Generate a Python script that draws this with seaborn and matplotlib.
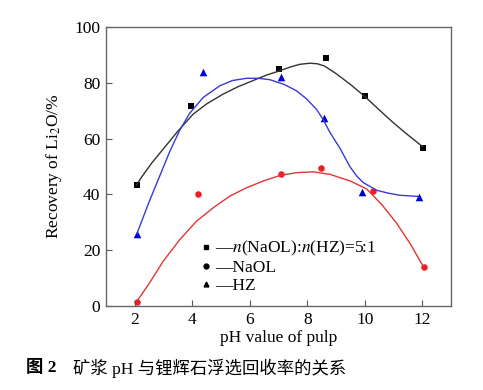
import matplotlib
matplotlib.use("Agg")
import matplotlib.pyplot as plt
from matplotlib.lines import Line2D
import numpy as np
import pandas as pd
import seaborn as sns

# measured points
ph_mix = [2.07, 3.95, 7.01, 8.66, 10.0, 12.02]
rec_mix = [43.4, 71.5, 85.1, 88.7, 75.1, 56.8]

ph_naol = [2.07, 4.19, 7.08, 8.48, 10.28, 12.07]
rec_naol = [1.6, 40.0, 47.4, 49.5, 41.4, 14.1]

ph_hz = [2.08, 4.39, 7.08, 8.58, 9.89, 11.88]
rec_hz = [25.9, 83.8, 82.2, 67.5, 41.0, 39.0]

# fitted curves
cx_mix = [2.07, 2.23, 2.6, 2.99, 3.5, 4.03, 4.5, 5.07, 5.6, 6.24, 6.6, 7.05, 7.4, 7.74, 8.09, 8.35, 8.6, 9.0, 9.5, 10.0, 10.5, 10.99, 11.5, 12.01]
cy_mix = [43.4, 46.0, 51.3, 56.2, 62.6, 68.7, 72.4, 75.9, 78.6, 81.3, 82.8, 84.3, 85.6, 86.6, 87.0, 86.8, 86.0, 83.3, 79.4, 75.1, 70.3, 65.7, 61.3, 57.1]

cx_naol = [2.08, 2.52, 2.99, 3.57, 4.15, 4.73, 5.31, 5.89, 6.47, 7.05, 7.63, 8.21, 8.79, 9.5, 10.06, 10.58, 11.1, 11.6, 12.03]
cy_naol = [1.7, 8.3, 16.0, 23.8, 30.4, 35.2, 39.4, 42.4, 44.8, 46.8, 47.8, 48.1, 47.2, 44.8, 42.0, 36.5, 29.8, 22.0, 14.2]

cx_hz = [2.08, 2.5, 2.93, 3.22, 3.57, 3.91, 4.38, 4.96, 5.4, 5.89, 6.3, 6.7, 7.2, 7.63, 7.98, 8.32, 8.55, 8.79, 9.14, 9.48, 9.72, 9.94, 10.41, 10.8, 11.22, 11.86]
cy_hz = [25.9, 37.2, 48.0, 55.3, 63.0, 69.0, 74.7, 78.9, 80.8, 81.6, 81.6, 81.1, 79.4, 77.1, 74.2, 70.5, 66.9, 62.2, 56.5, 50.0, 46.6, 44.3, 41.5, 40.5, 39.7, 39.3]

plt.rcParams["mathtext.fontset"] = "stix"
plt.rcParams["font.family"] = ["Liberation Serif", "Noto Sans CJK SC"]

fig = plt.figure(figsize=(4.83, 3.9), dpi=100)
ax = fig.add_axes([0.219, 0.215, 0.715, 0.716])

sns.lineplot(x=cx_mix, y=cy_mix, ax=ax, color="#333333", lw=1.0, sort=False)
sns.lineplot(x=cx_hz, y=cy_hz, ax=ax, color="#3a3ad6", lw=1.0, sort=False)
sns.lineplot(x=cx_naol, y=cy_naol, ax=ax, color="#e03535", lw=1.0, sort=False)

sns.scatterplot(x=ph_mix, y=rec_mix, ax=ax, marker="s", color="black", s=18, linewidth=0)
sns.scatterplot(x=ph_hz, y=rec_hz, ax=ax, marker="^", color="#0000d0", s=30, linewidth=0)
sns.scatterplot(x=ph_naol, y=rec_naol, ax=ax, marker="o", color="#ee1c24", s=22, linewidth=0)

ax.set_xlim(1, 13)
ax.set_ylim(0, 100)
ax.set_xticks([2, 4, 6, 8, 10, 12])
ax.set_yticks([0, 20, 40, 60, 80, 100])
ax.tick_params(direction="in", length=4, width=0.8, color="#555555", labelsize=12.5, pad=4)
for s in ax.spines.values():
    s.set_color("#666666")
    s.set_linewidth(1.0)

ax.set_xlabel("pH value of pulp", fontsize=12.5, labelpad=2)
ax.set_ylabel("Recovery of Li$_2$O/%", fontsize=12.5, labelpad=7)

handles = [
    Line2D([], [], marker="s", color="black", ls="none", markersize=3.5),
    Line2D([], [], marker="o", color="black", ls="none", markersize=3.5),
    Line2D([], [], marker="^", color="black", ls="none", markersize=3.5),
]
labels = ["\u2014$n$(NaOL):$n$(HZ)=5:1", "\u2014NaOL", "\u2014HZ"]
ax.legend(handles, labels, loc="lower left", bbox_to_anchor=(0.245, 0.0), frameon=False,
          fontsize=12.5, handlelength=0.4, handletextpad=0.3, labelspacing=0.1, borderaxespad=0.3)

fig.text(0.053, 0.056, "图 2", fontsize=12.5, fontweight="bold", va="center")
fig.text(0.151, 0.056, "矿浆 pH 与锂辉石浮选回收率的关系", fontsize=12.5, va="center")

fig.savefig("out.png", dpi=100)
